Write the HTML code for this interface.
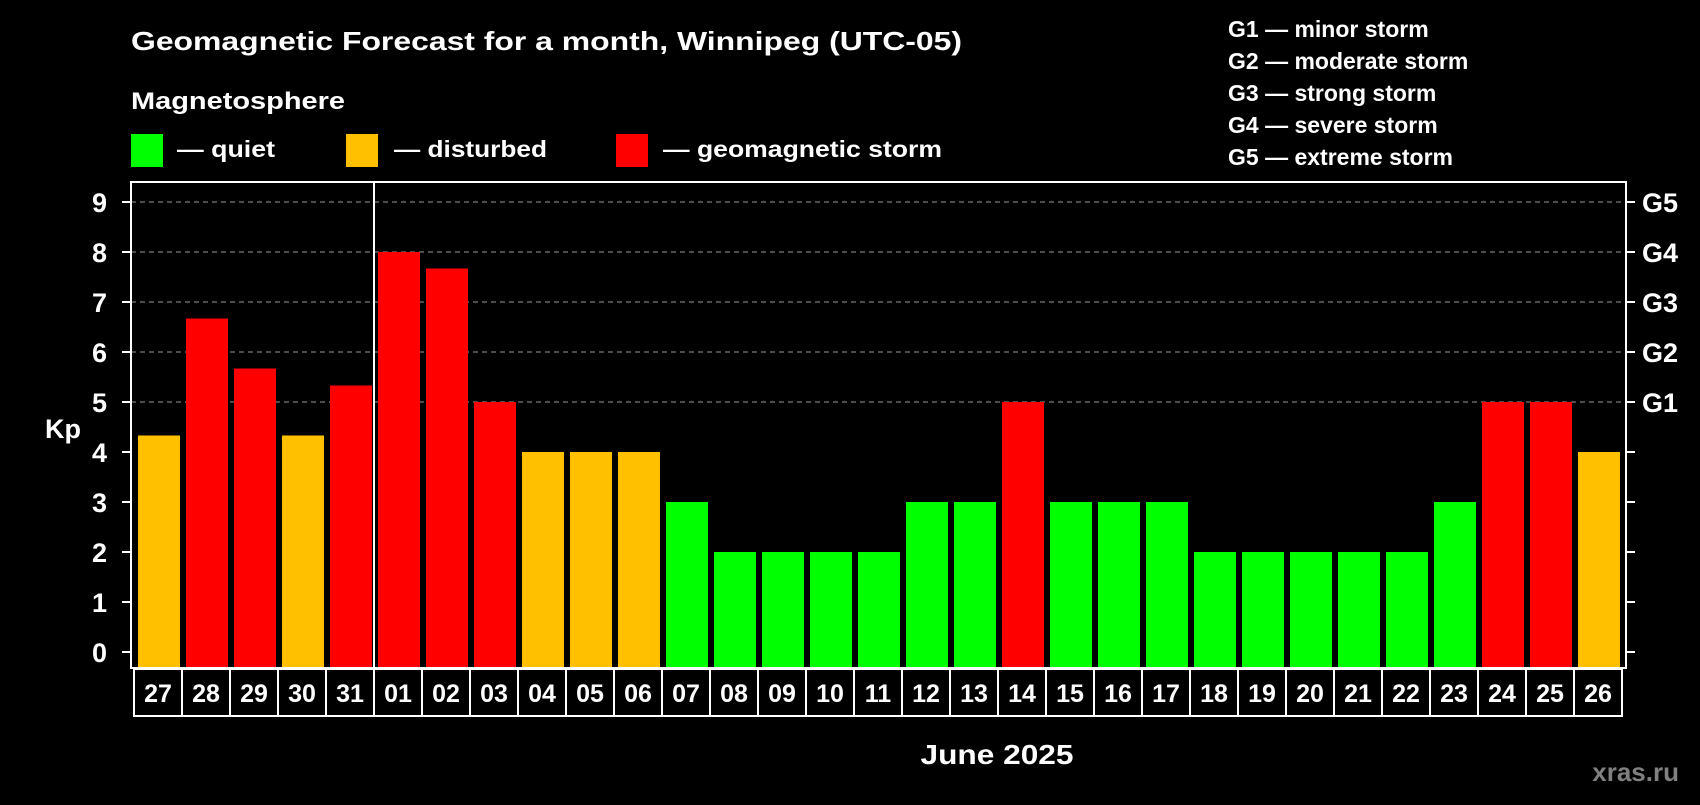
<!DOCTYPE html>
<html><head><meta charset="utf-8"><style>
html,body{margin:0;padding:0;background:#000;}
svg text{font-family:"Liberation Sans",Arial,sans-serif;font-weight:bold;fill:#fff;}
</style></head><body>
<svg id="chart" width="1700" height="800" viewBox="0 0 1700 800" xmlns="http://www.w3.org/2000/svg">
<rect width="1700" height="800" fill="#000"/>
<text x="131" y="50" font-size="26" textLength="831" lengthAdjust="spacingAndGlyphs">Geomagnetic Forecast for a month, Winnipeg (UTC-05)</text>
<text x="131" y="109" font-size="24" textLength="214" lengthAdjust="spacingAndGlyphs">Magnetosphere</text>
<g>
<rect x="131" y="134" width="32" height="33" fill="#00ff00"/>
<text x="177" y="157" font-size="23" textLength="98" lengthAdjust="spacingAndGlyphs">— quiet</text></g>
<g>
<rect x="346" y="134" width="32" height="33" fill="#ffc000"/>
<text x="394" y="157" font-size="23" textLength="153" lengthAdjust="spacingAndGlyphs">— disturbed</text></g>
<g>
<rect x="616" y="134" width="32" height="33" fill="#ff0000"/>
<text x="663" y="157" font-size="23" textLength="279" lengthAdjust="spacingAndGlyphs">— geomagnetic storm</text></g>
<g font-size="23">
<text x="1228" y="37">G1 — minor storm</text>
<text x="1228" y="69">G2 — moderate storm</text>
<text x="1228" y="101">G3 — strong storm</text>
<text x="1228" y="133">G4 — severe storm</text>
<text x="1228" y="165">G5 — extreme storm</text>
</g>
<text x="63" y="438" font-size="27" text-anchor="middle">Kp</text>
<g id="grid"></g>
<g id="bars"></g>
<g id="axes"></g>
<text x="997" y="764" font-size="28" text-anchor="middle" textLength="153" lengthAdjust="spacingAndGlyphs">June 2025</text>
<text x="1679" y="781" font-size="26" text-anchor="end" style="fill:#808080">xras.ru</text>
</svg>
<script>
const days = ["27","28","29","30","31","01","02","03","04","05","06","07","08","09","10","11","12","13","14","15","16","17","18","19","20","21","22","23","24","25","26"];
const kpValues = [4.33,6.67,5.67,4.33,5.33,8,7.67,5,4,4,4,3,2,2,2,2,3,3,5,3,3,3,2,2,2,2,2,3,5,5,4];
const yTicks = [0,1,2,3,4,5,6,7,8,9];
const gLabels = ["G1","G2","G3","G4","G5"];
const gLevels = [5,6,7,8,9];
const monthBreakIndex = 5;

const NS="http://www.w3.org/2000/svg";
const L=131,R=1626,T=182,B=668;
const slotX0=134,slotW=48;
function y(v){return 652-v*50;}
function x(i){return slotX0+i*slotW;}
function mk(tag,attrs,parent){const e=document.createElementNS(NS,tag);for(const k in attrs)e.setAttribute(k,attrs[k]);parent.appendChild(e);return e;}
const grid=document.getElementById('grid'),bars=document.getElementById('bars'),axes=document.getElementById('axes');
gLevels.forEach((g,i)=>{
  const ln=mk('line',{x1:L,x2:R,y1:y(g),y2:y(g),stroke:'#999','stroke-width':1,'stroke-dasharray':'5,4'},grid);
  
  
  const t=mk('text',{x:1642,y:y(g)+10,'font-size':27},axes);t.textContent=gLabels[i];
  
  
});
kpValues.forEach((v,i)=>{
  const c=v>=5?'#ff0000':(v>=4?'#ffc000':'#00ff00');
  const r=mk('rect',{x:x(i)+4,y:y(v),width:42,height:B-y(v),fill:c},bars);
  
  
  const b=mk('rect',{x:x(i),y:669,width:slotW,height:47,fill:'#000',stroke:'#fff','stroke-width':2},axes);
  
  
  const t=mk('text',{x:x(i)+slotW/2,y:702,'font-size':25,'text-anchor':'middle'},axes);t.textContent=days[i];
  
  
});
yTicks.forEach(v=>{
  const a=mk('line',{x1:122,x2:L,y1:y(v),y2:y(v),stroke:'#fff','stroke-width':2},axes);
  
  
  const b=mk('line',{x1:R,x2:R+9,y1:y(v),y2:y(v),stroke:'#fff','stroke-width':2},axes);
  
  
  const t=mk('text',{x:107,y:y(v)+10,'font-size':27,'text-anchor':'end'},axes);t.textContent=v;
  
  
});
const frame=mk('rect',{x:L,y:T,width:R-L,height:B-T,fill:'none',stroke:'#fff','stroke-width':2},axes);


const sep=mk('line',{x1:x(monthBreakIndex),x2:x(monthBreakIndex),y1:T,y2:716,stroke:'#fff','stroke-width':2},axes);


</script>
</body></html>
